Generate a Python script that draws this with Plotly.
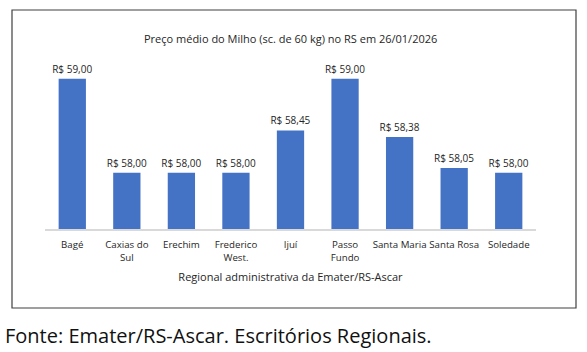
import plotly.graph_objects as go

categories = ["Bagé", "Caxias do<br>Sul", "Erechim", "Frederico<br>West.", "Ijuí",
              "Passo<br>Fundo", "Santa Maria", "Santa Rosa", "Soledade"]
prices = [59.00, 58.00, 58.00, 58.00, 58.45, 59.00, 58.38, 58.05, 58.00]

title = "Preço médio do Milho (sc. de 60 kg) no RS em 26/01/2026"
xtitle = "Regional administrativa da Emater/RS-Ascar"
source = "Fonte: Emater/RS-Ascar. Escritórios Regionais."

FONT = "Open Sans"
W, H = 587, 352
L, R, T, B = 45, 51, 60, 123
pw, ph = W - L - R, H - T - B

def px(x):
    return (x - L) / pw

def py(y):
    return (H - B - y) / ph

fig = go.Figure(go.Bar(
    x=categories, y=prices,
    marker=dict(color="#4472C4", line=dict(width=0)),
    width=0.5,
    texttemplate="R$ %{y:.2f}", textposition="outside",
    constraintext="none",
    textfont=dict(size=10, color="#262626", family=FONT),
    cliponaxis=False,
))

fig.update_layout(
    width=W, height=H,
    margin=dict(l=L, r=R, t=T, b=B),
    paper_bgcolor="white", plot_bgcolor="white",
    separators=",.",
    showlegend=False,
    font=dict(family=FONT, color="#262626"),
    xaxis=dict(showline=True, linecolor="#D9D9D9", linewidth=1.5,
               tickangle=0,
               tickfont=dict(size=9.7, color="#262626"),
               ticks="outside", ticklen=6, tickcolor="rgba(0,0,0,0)",
               title=dict(text=xtitle, font=dict(size=11, color="#262626"), standoff=10)),
    yaxis=dict(range=[57.4, 59.2], visible=False, showgrid=False),
    shapes=[dict(type="rect", xref="paper", yref="paper",
                 x0=px(12), x1=px(576), y0=py(308), y1=py(10),
                 line=dict(color="#404040", width=1.2), fillcolor="rgba(0,0,0,0)")],
    annotations=[
        dict(text=title, xref="paper", yref="paper", x=0.5, y=py(38),
             xanchor="center", yanchor="middle", showarrow=False,
             font=dict(size=11, color="#262626", family=FONT)),
        dict(text=source, xref="paper", yref="paper", x=px(3), y=py(335),
             xanchor="left", yanchor="middle", showarrow=False,
             font=dict(size=20, color="#111111", family=FONT)),
    ],
)

fig.write_html("out.html")
